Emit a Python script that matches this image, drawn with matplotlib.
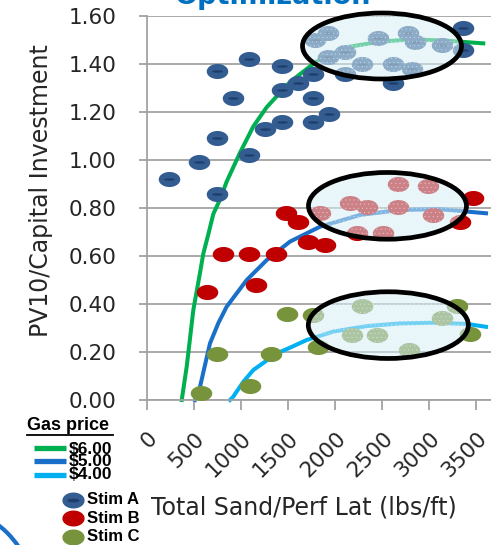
import numpy as np
import matplotlib.pyplot as plt
import matplotlib.transforms as mtransforms
from matplotlib.path import Path
from matplotlib.patches import Ellipse, Circle
from matplotlib.lines import Line2D

# scatter points (x = lbs/ft, y = PV10 / capital investment)
stim_a_x = [240, 558, 750, 750, 750, 919, 1089, 1089, 1256, 1433, 1433, 1433, 1603,
            1769, 1769, 1769, 1939, 2105, 2618, 3361, 3361, 1787, 1925, 1925, 2105,
            2286, 2456, 2615, 2774, 2849, 2817, 3135]
stim_a_y = [0.92, 0.99, 1.09, 1.37, 0.86, 1.26, 1.42, 1.02, 1.13, 1.39, 1.29, 1.16, 1.32,
            1.36, 1.26, 1.16, 1.19, 1.36, 1.32, 1.55, 1.46, 1.50, 1.53, 1.43, 1.45,
            1.40, 1.51, 1.40, 1.53, 1.49, 1.38, 1.48]
stim_b_x = [644, 813, 1089, 1373, 1157, 1479, 1603, 1716, 1893, 3326, 3467, 1840, 2158,
            2335, 2671, 2989, 2671, 3043, 2229, 2512]
stim_b_y = [0.45, 0.61, 0.61, 0.61, 0.48, 0.78, 0.74, 0.66, 0.645, 0.74, 0.84, 0.78, 0.82,
            0.805, 0.90, 0.89, 0.805, 0.77, 0.695, 0.695]
stim_c_x = [576, 750, 1097, 1316, 1493, 1762, 1822, 3291, 3432, 2282, 2176, 2448, 2788, 3132]
stim_c_y = [0.03, 0.19, 0.06, 0.19, 0.36, 0.355, 0.22, 0.39, 0.275, 0.39, 0.27, 0.27, 0.21, 0.34]

# trend lines, one per gas price
gas6_x = [372, 425, 495, 566, 601, 654, 707, 778, 849, 990, 1132, 1274, 1344, 1521, 1734,
          1840, 2123, 2477, 2830, 3185, 3573]
gas6_y = [0.0, 0.14, 0.375, 0.53, 0.61, 0.69, 0.775, 0.835, 0.91, 1.03, 1.14, 1.22, 1.25,
          1.325, 1.39, 1.42, 1.47, 1.493, 1.503, 1.497, 1.486]
gas5_x = [513, 566, 619, 672, 760, 849, 1062, 1274, 1521, 1840, 2264, 2689, 3114, 3602]
gas5_y = [0.0, 0.055, 0.146, 0.236, 0.32, 0.389, 0.50, 0.583, 0.66, 0.722, 0.771, 0.792,
          0.795, 0.778]
gas4_x = [884, 919, 1026, 1132, 1380, 1521, 1698, 1981, 2335, 2689, 3043, 3397, 3602]
gas4_y = [0.0, 0.014, 0.076, 0.125, 0.194, 0.218, 0.25, 0.285, 0.308, 0.319, 0.322, 0.317,
          0.305]

x_ticks = [0, 500, 1000, 1500, 2000, 2500, 3000, 3500]
y_ticks = [0.0, 0.2, 0.4, 0.6, 0.8, 1.0, 1.2, 1.4, 1.6]
price_labels = ["$6.00", "$5.00", "$4.00"]
stim_labels = ["Stim A", "Stim B", "Stim C"]

# circled clusters: centre x, centre y, width, height (data units)
highlights = [(2498, 1.475, 1688, 0.275),
              (2556, 0.809, 1677, 0.278),
              (2565, 0.312, 1699, 0.278)]

col_a, col_a_in = "#335C91", "#1E3D6B"
col_b = "#C00000"
col_c = "#77933C"
col6, col5, col4 = "#00B050", "#1A6FC9", "#00B0F0"
txt = "#262626"
grey = "#A3A3A3"

W, H = 491, 545
plt.rcParams["hatch.linewidth"] = 0.4


def fx(px):
    return px / W


def fy(py):
    return 1 - py / H


def oval(ratio):
    t = np.linspace(0, 2 * np.pi, 60)
    return Path(np.column_stack([np.cos(t), ratio * np.sin(t)]), closed=True)


dot = oval(0.7)
dash = oval(0.22)

fig = plt.figure(figsize=(W / 100, H / 100), dpi=100)
ax = fig.add_axes([fx(146.7), fy(400), 1 - fx(146.7), 384 / H])
ax.set_xlim(0, 3655)
ax.set_ylim(0, 1.6)

for s in ["top", "right"]:
    ax.spines[s].set_visible(False)
for s in ["left", "bottom"]:
    ax.spines[s].set_color(grey)
    ax.spines[s].set_linewidth(1.3)
ax.yaxis.grid(True, color=grey, lw=1.3, zorder=0)
ax.set_axisbelow(True)

ax.set_yticks(y_ticks)
ax.set_yticklabels(["%.2f" % v for v in y_ticks])
ax.set_xticks(x_ticks)
ax.set_xticklabels([str(v) for v in x_ticks], rotation=45, ha="right", va="center",
                   rotation_mode="anchor")
ax.tick_params(axis="y", length=6, width=1.3, color=grey, pad=16, labelsize=15.5, labelcolor=txt)
ax.tick_params(axis="x", length=7, width=1.3, color=grey, pad=18.5, labelsize=15.5, labelcolor=txt)
shift = mtransforms.ScaledTranslation(0.075, 0, fig.dpi_scale_trans)
for lab in ax.get_xticklabels():
    lab.set_transform(lab.get_transform() + shift)

ax.plot(gas6_x, gas6_y, color=col6, lw=2.9, zorder=2, clip_on=False)
ax.plot(gas5_x, gas5_y, color=col5, lw=2.9, zorder=2, clip_on=False)
ax.plot(gas4_x, gas4_y, color=col4, lw=2.9, zorder=2, clip_on=False)

ax.scatter(stim_a_x, stim_a_y, s=240, marker=dot, color=col_a, lw=0, zorder=3, clip_on=False)
ax.scatter(stim_a_x, stim_a_y, s=60, marker=dash, color=col_a_in, lw=0, zorder=3, clip_on=False)
ax.scatter(stim_b_x, stim_b_y, s=240, marker=dot, color=col_b, lw=0, zorder=3, clip_on=False)
ax.scatter(stim_c_x, stim_c_y, s=240, marker=dot, color=col_c, lw=0, zorder=3, clip_on=False)

for cx, cy, w, h in highlights:
    ax.add_patch(Ellipse((cx, cy), w, h, facecolor=(0.84, 0.93, 0.96, 0.55),
                         edgecolor=(1, 1, 1, 0.35), lw=0, hatch="....", zorder=4))
    ax.add_patch(Ellipse((cx, cy), w, h, fill=False, edgecolor="black", lw=3.4,
                         zorder=5, clip_on=False))

# title, mostly cut off by the top edge
fig.text(fx(175), fy(4), "Optimization", color="#0070C0", fontsize=19.5,
         fontweight="bold", ha="left", va="baseline")

fig.text(fx(41), fy(191), "PV10/Capital Investment", rotation=90, ha="center",
         va="center", fontsize=17, color=txt)
fig.text(fx(151), fy(508), "Total Sand/Perf Lat (lbs/ft)", ha="left", va="center",
         fontsize=17, color=txt)

# hand-made legend in the lower left
lf = "Liberation Sans"
fig.text(fx(27), fy(426), "Gas price", family=lf, fontweight="bold", fontsize=13,
         ha="left", va="center", color="black")
fig.add_artist(Line2D([fx(27), fx(113)], [fy(434.5), fy(434.5)], color="black", lw=1.3))
for i, c in enumerate([col6, col5, col4]):
    yy = fy(447.5 + 13.6 * i)
    fig.add_artist(Line2D([fx(34), fx(66)], [yy, yy], color=c, lw=3.8, solid_capstyle="butt"))
fig.text(fx(69), fy(462), "\n".join(price_labels), family=lf, fontweight="bold",
         fontsize=12.5, linespacing=0.82, ha="left", va="center", color="black")
for i, (lab, c) in enumerate(zip(stim_labels, [col_a, col_b, col_c])):
    yy = fy(500 + 18.3 * i)
    fig.add_artist(Line2D([fx(73)], [yy], marker=dot, markersize=15, color=c, lw=0))
    if i == 0:
        fig.add_artist(Line2D([fx(73)], [yy], marker=dash, markersize=7.5, color=col_a_in, lw=0))
    fig.text(fx(87), yy, lab, family=lf, fontweight="bold", fontsize=12, ha="left",
             va="center", color="black")

# piece of a blue ring peeking in at the bottom left corner
fig.add_artist(Circle((-0.6, -0.55), 0.95, transform=fig.dpi_scale_trans, fill=False,
                      edgecolor="#1A6FC9", lw=3))

fig.savefig("out.png", dpi=100)
